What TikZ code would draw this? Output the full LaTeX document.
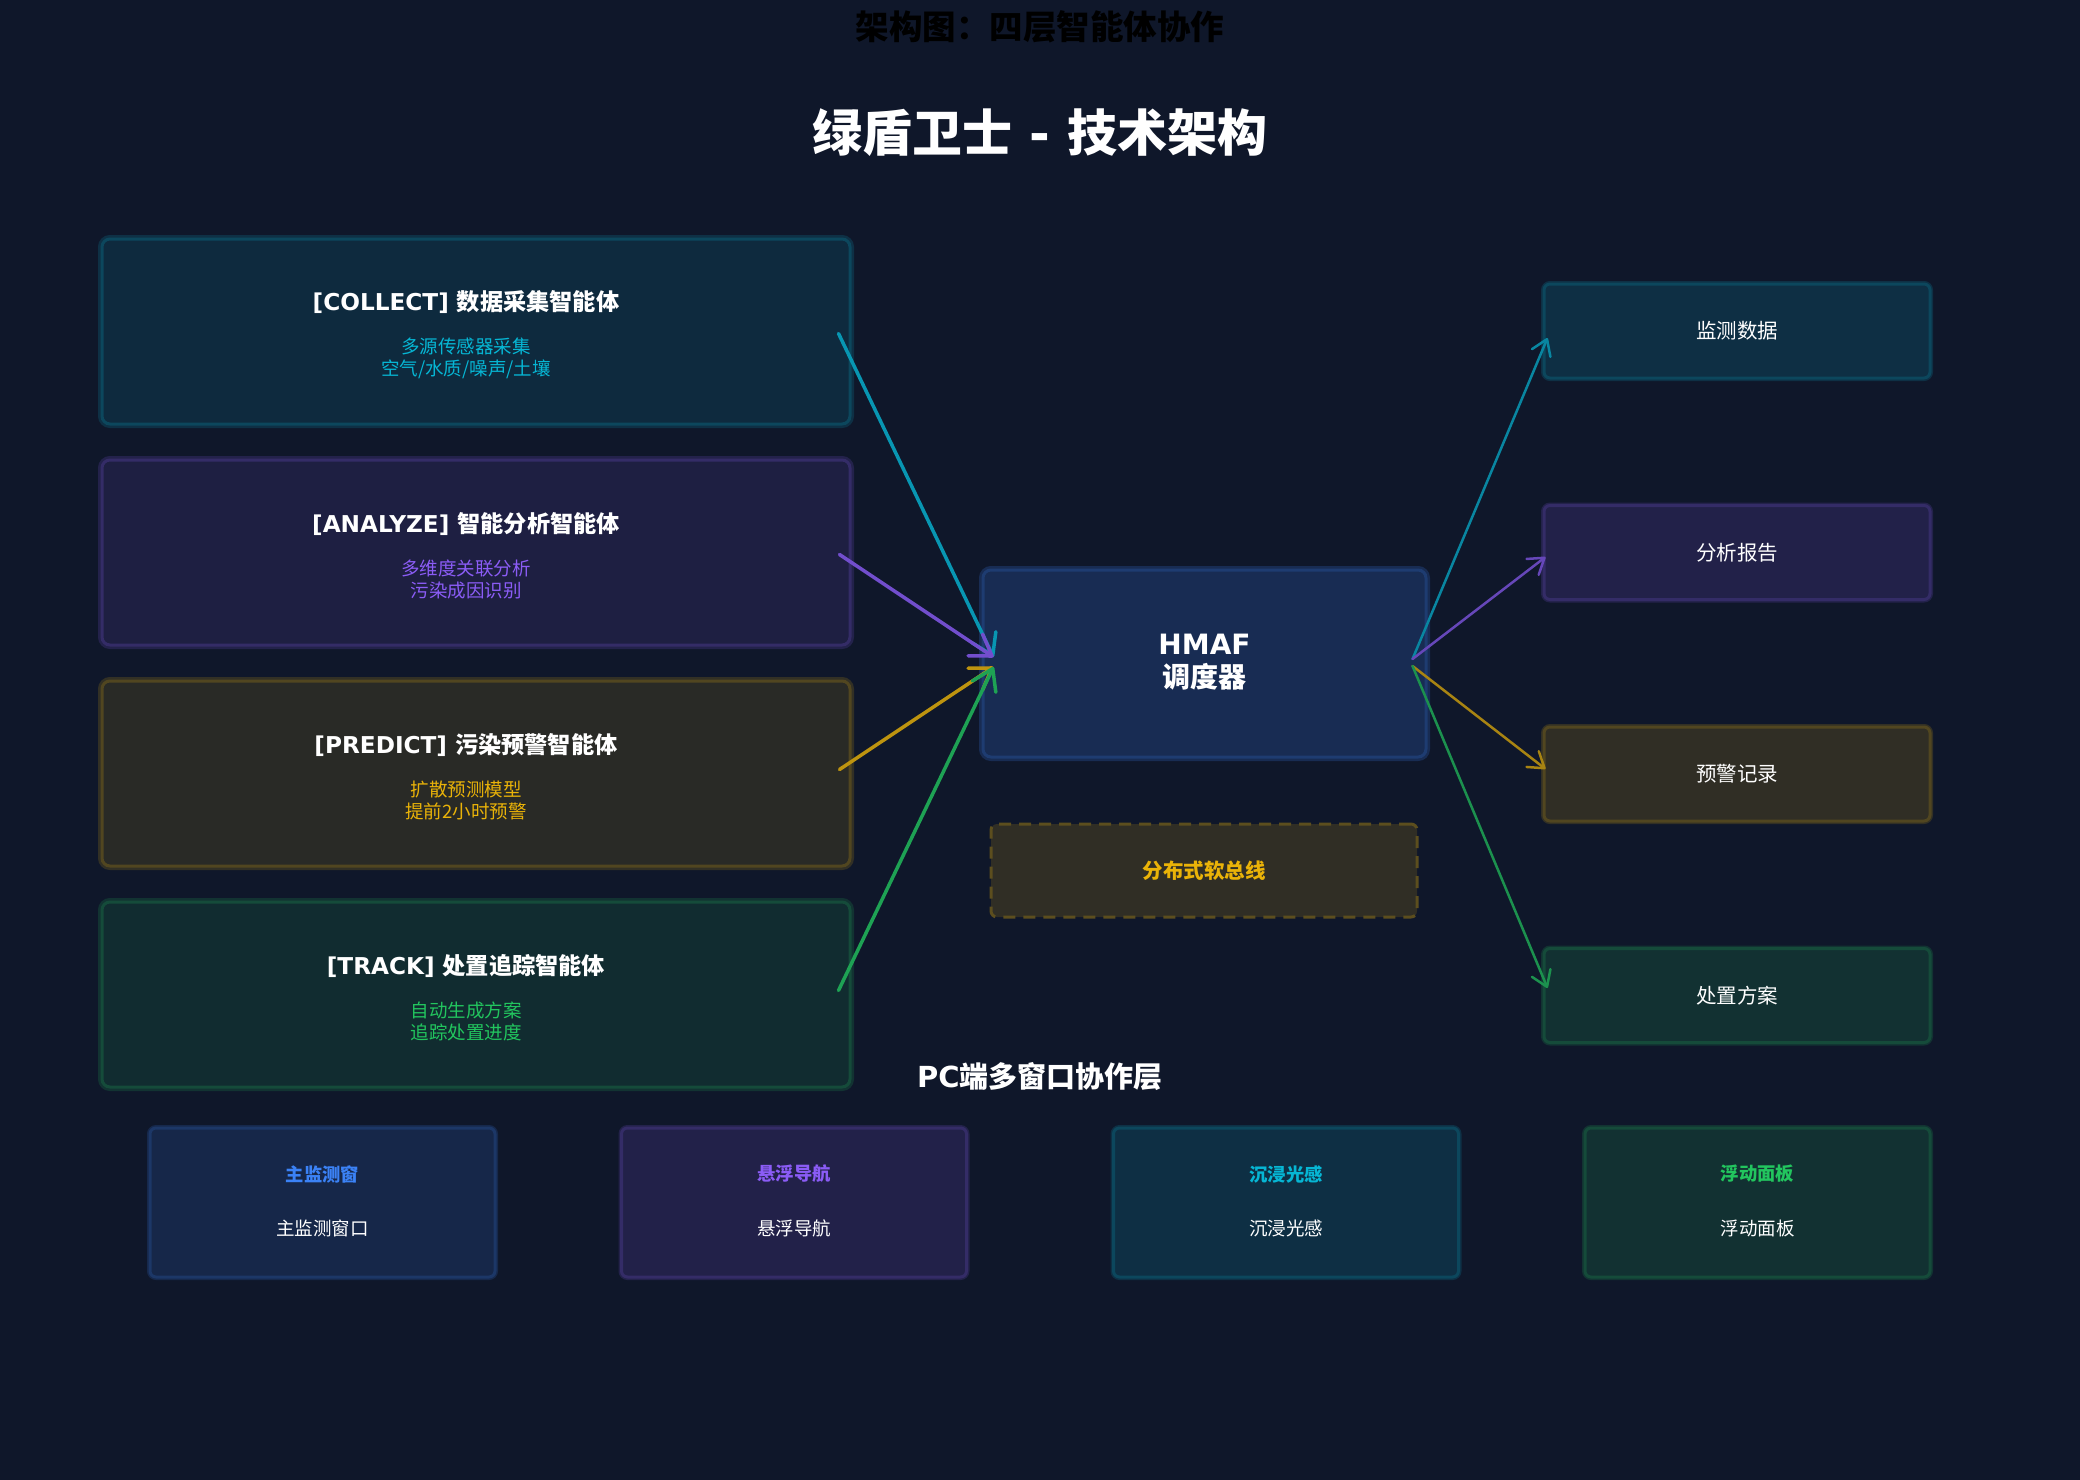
\documentclass[tikz,border=0pt]{standalone}
\usepackage{fontspec}
\setmainfont{DejaVu Sans}
\newfontfamily\cjk{Noto Sans CJK SC}
\usetikzlibrary{arrows.meta,calc}
\definecolor{bg}{HTML}{0F172A}
\definecolor{ccyan}{HTML}{06B6D4}
\definecolor{cpurple}{HTML}{8B5CF6}
\definecolor{camber}{HTML}{EAB308}
\definecolor{cgreen}{HTML}{22C55E}
\definecolor{cblue}{HTML}{3B82F6}
\newcommand\fsz[2]{\fontsize{#1}{#2}\selectfont}
\begin{document}
\begin{tikzpicture}[x=1pt,y=-1pt,
  agent/.style={draw=#1!30!bg, fill=#1!12!bg, line width=3pt, rounded corners=8pt,
    preaction={draw=#1!16!bg, line width=8pt},
    minimum width=748pt, minimum height=185pt, inner sep=0pt},
  outbox/.style={draw=#1!30!bg, fill=#1!15!bg, line width=3pt, rounded corners=6pt,
    preaction={draw=#1!16!bg, line width=6pt},
    minimum width=386pt, minimum height=94pt, inner sep=0pt},
  winbox/.style={draw=#1!30!bg, fill=#1!15!bg, line width=3pt, rounded corners=6pt,
    preaction={draw=#1!16!bg, line width=6pt},
    minimum width=345pt, minimum height=149pt, inner sep=0pt},
  ttl/.style={text=white, font=\fsz{23.2}{28}\bfseries, inner sep=0pt},
  sub/.style={font=\fsz{18.5}{22}\cjk, align=center, inner sep=0pt},
  outtxt/.style={text=white, font=\fsz{20.5}{24}\cjk, inner sep=0pt},
  wintitle/.style={font=\fsz{18.3}{22}\cjk\bfseries, inner sep=0pt},
  windesc/.style={text=white, font=\fsz{18.5}{22}\cjk, inner sep=0pt},
  inarrow/.style={draw=#1!80!bg, line width=3.5pt, line cap=round,
    -{Straight Barb[length=20pt,width=26pt,round]}},
  outarrow/.style={draw=#1!70!bg, line width=2.5pt, line cap=round,
    -{Straight Barb[length=15pt,width=20pt,round]}}
]
\fill[bg] (0,0) rectangle (2080,1480);
\useasboundingbox (0,0) rectangle (2080,1480);

% titles
\node[text=black, font=\fsz{33.5}{40}\cjk\bfseries] (toptitle) at (1040,27) {架构图：四层智能体协作};
\node[text=white, font=\fsz{50}{58}\bfseries] (maintitle) at (1040,133) {{\cjk 绿盾卫士} - {\cjk 技术架构}};

% left agents
\node[agent=ccyan] (a1) at (476,331.5) {};
\node[agent=cpurple] (a2) at (476,552.5) {};
\node[agent=camber] (a3) at (476,773.5) {};
\node[agent=cgreen] (a4) at (476,994.5) {};

\node[ttl] (a1t) at (466,302) {[COLLECT] {\cjk 数据采集智能体}};
\node[sub, text=ccyan] (a1s) at (466,358.5) {多源传感器采集\\空气/水质/噪声/土壤};
\node[ttl] (a2t) at (466,524) {[ANALYZE] {\cjk 智能分析智能体}};
\node[sub, text=cpurple] (a2s) at (466,579.5) {多维度关联分析\\污染成因识别};
\node[ttl] (a3t) at (466,745) {[PREDICT] {\cjk 污染预警智能体}};
\node[sub, text=camber] (a3s) at (466,800.5) {扩散预测模型\\提前2小时预警};
\node[ttl] (a4t) at (466,966) {[TRACK] {\cjk 处置追踪智能体}};
\node[sub, text=cgreen] (a4s) at (466,1021.5) {自动生成方案\\追踪处置进度};

% HMAF
\node[draw=cblue!35!bg, fill=cblue!20!bg, line width=3pt, rounded corners=8pt,
  preaction={draw=cblue!20!bg, line width=8pt},
  minimum width=443pt, minimum height=187pt, inner sep=0pt] (hmaf) at (1204.5,663.5) {};
\node[text=white, font=\fsz{28}{33}\bfseries, align=center, inner sep=0pt] (hmaft) at (1204.5,662)
  {HMAF\\{\cjk 调度器}};

% bus
\node[draw=camber!35!bg, fill=camber!15!bg, line width=3pt, rounded corners=6pt, dash pattern=on 12pt off 8pt,
  minimum width=426pt, minimum height=93pt, inner sep=0pt] (bus) at (1204,870.5) {};
\node[text=camber, font=\fsz{20.5}{24}\cjk\bfseries, inner sep=0pt] (bust) at (1204,870.5) {分布式软总线};

% right outputs
\node[outbox=ccyan] (o1) at (1737,331) {};
\node[outbox=cpurple] (o2) at (1737,552.5) {};
\node[outbox=camber] (o3) at (1737,774) {};
\node[outbox=cgreen] (o4) at (1737,995.5) {};
\node[outtxt] (o1t) at (o1) {监测数据};
\node[outtxt] (o2t) at (o2) {分析报告};
\node[outtxt] (o3t) at (o3) {预警记录};
\node[outtxt] (o4t) at (o4) {处置方案};

% arrows in
\draw[inarrow=ccyan] ($(a1.east)+(-13,2)$) -- ($(hmaf.west)+(12,-6.5)$);
\draw[inarrow=cpurple] ($(a2.east)+(-12,2)$) -- ($(hmaf.west)+(12,-6.5)$);
\draw[inarrow=camber] ($(a3.east)+(-12,-4)$) -- ($(hmaf.west)+(12,3.5)$);
\draw[inarrow=cgreen] ($(a4.east)+(-13,-4)$) -- ($(hmaf.west)+(12,3.5)$);

% arrows out
\draw[outarrow=ccyan] ($(hmaf.east)+(-15,-4.5)$) -- ($(o1.west)+(5,7)$);
\draw[outarrow=cpurple] ($(hmaf.east)+(-15,-4.5)$) -- ($(o2.west)+(3,4.5)$);
\draw[outarrow=camber] ($(hmaf.east)+(-15,2.5)$) -- ($(o3.west)+(3,-5)$);
\draw[outarrow=cgreen] ($(hmaf.east)+(-15,2.5)$) -- ($(o4.west)+(5,-7.5)$);

% bottom layer
\node[text=white, font=\fsz{29}{34}\bfseries, inner sep=0pt] (pctitle) at (1040,1077) {PC{\cjk 端多窗口协作层}};
\node[winbox=cblue] (w1) at (322.5,1202.5) {};
\node[winbox=cpurple] (w2) at (794,1202.5) {};
\node[winbox=ccyan] (w3) at (1286,1202.5) {};
\node[winbox=cgreen] (w4) at (1757.5,1202.5) {};
\node[wintitle, text=cblue] (w1t) at (322.5,1174) {主监测窗};
\node[windesc] (w1d) at (322.5,1228) {主监测窗口};
\node[wintitle, text=cpurple] (w2t) at (794,1174) {悬浮导航};
\node[windesc] (w2d) at (794,1228) {悬浮导航};
\node[wintitle, text=ccyan] (w3t) at (1286,1174) {沉浸光感};
\node[windesc] (w3d) at (1286,1228) {沉浸光感};
\node[wintitle, text=cgreen] (w4t) at (1757.5,1174) {浮动面板};
\node[windesc] (w4d) at (1757.5,1228) {浮动面板};
\end{tikzpicture}
\end{document}
